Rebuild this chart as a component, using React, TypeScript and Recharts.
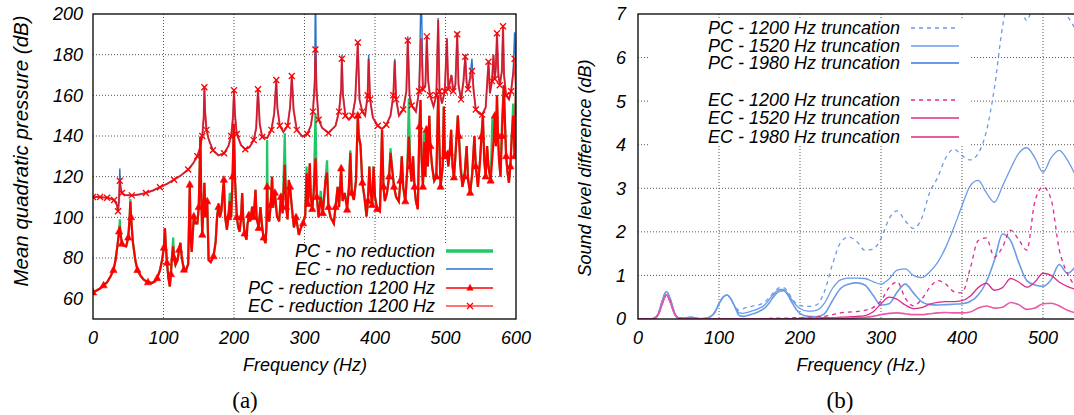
import React from 'react';
import { LineChart, Line, XAxis, YAxis, CartesianGrid } from 'recharts';

// (a) mean quadratic pressure, EC curve
const ecFreq = [
  0, 5, 10, 15, 20, 25, 30, 34, 35.5, 37,
  38, 39, 41, 45, 55, 65, 75, 85, 95, 105,
  115, 125, 135, 142, 148, 152, 155, 157, 158, 159,
  161, 164, 170, 178, 186, 192, 196, 198.5, 200, 201.5,
  204, 210, 216, 222, 228, 231.5, 234, 236.5, 240, 247,
  253, 257, 260, 261.5, 265, 270, 276, 279.5, 282, 284.5,
  289, 297, 304, 309, 312, 314.5, 315.5, 317, 320, 325,
  334, 344, 349, 352, 353, 354.5, 358, 363, 368, 372,
  375.6, 378, 382, 386, 389.5, 391, 393, 397, 404, 410,
  416, 422, 426, 428, 430, 434, 440, 444.5, 446.5, 449,
  452, 458, 462.5, 465.5, 468, 471.5, 473.5, 475.5, 478, 483,
  487, 489.6, 491.5, 495, 499, 502, 504, 508.5, 511, 514,
  516.6, 518.5, 522, 525.5, 528, 530, 532, 535, 537.5, 540,
  543, 548, 552, 557, 561, 563, 566, 568, 570, 571.5,
  573, 575, 577, 580, 581.6, 583, 586, 590, 593, 596,
  598, 600,
];
const ecNoReduction = [
  110, 110, 110, 109.8, 109.6, 109.2, 108.5, 106, 103, 110,
  124, 116, 112, 111, 110.8, 111.2, 112, 113.2, 114.8, 116.5,
  118.5, 120.7, 123.5, 126.5, 130, 134.5, 140, 149, 164, 152,
  143, 138.5, 133, 130.5, 131.5, 135, 140, 149, 163, 150,
  141, 135.5, 133.5, 134.5, 138, 144, 163, 146, 139.5, 139,
  143, 151, 168, 154, 145, 142, 145, 154, 170, 153,
  143, 139.7, 141, 145, 152, 168, 215, 165, 148, 144,
  141.5, 145, 152, 164, 180, 161, 150, 148, 150, 158,
  186, 158, 152, 150, 160, 180, 158, 149, 145, 143.5,
  145.5, 150, 160, 178, 158, 150, 153, 162, 189, 160,
  155, 152, 162, 215, 163, 165, 189, 167, 160, 154.5,
  160, 198, 162, 156, 162, 188, 163, 170, 162, 165,
  191, 165, 158, 167, 180, 166, 163, 170, 178, 162,
  153, 151, 150.5, 154, 177, 161, 167, 180, 168, 174,
  191, 170, 165, 172, 194, 170, 160, 158, 162, 172,
  191, 172,
];
const ecReduction = [
  110, 110, 110, 109.8, 109.6, 109.2, 108.5, 106, 103, 108,
  118, 114, 112, 111, 110.8, 111.2, 112, 113.2, 114.8, 116.5,
  118.5, 120.7, 123.5, 126.5, 130, 134.5, 140, 149, 164, 152,
  143, 138.5, 133, 130.5, 131.5, 135, 140, 149, 162.5, 150,
  141, 135.5, 133.5, 134.5, 138, 144, 163, 146, 139.5, 139,
  143, 151, 167.5, 154, 145, 142, 145, 154, 169.5, 153,
  143, 139.7, 141, 145, 152, 165, 182.5, 162, 148, 144,
  141.5, 145, 152, 163, 178, 160, 150, 148, 150, 158,
  186, 158, 152, 150, 160, 178, 158, 149, 145, 143.5,
  145.5, 150, 160, 177, 158, 150, 153, 162, 187, 160,
  155, 152, 162, 188, 163, 165, 189, 167, 160, 154.5,
  160, 197, 162, 156, 162, 188, 163, 170, 162, 165,
  190, 165, 158, 167, 179, 166, 163, 168, 172, 162,
  153, 151, 150.5, 154, 176.5, 161, 167, 180, 168, 174,
  190.5, 170, 165, 172, 194, 170, 160, 158, 162, 170,
  178, 162,
];

// (a) PC curve
const pcFreq = [
  0, 5, 10, 15, 20, 25, 29, 32, 35, 37,
  38, 39, 41, 44, 47, 50, 52, 53, 54, 56.5,
  60, 63, 68, 72, 78, 84, 88, 91, 95, 98,
  100.5, 102, 103.5, 105, 107, 109, 110.5, 112, 113.7, 115,
  117, 120, 122, 124, 126, 129, 132, 135, 137.3, 138.5,
  140, 143, 145.4, 148, 150, 152.3, 153.5, 155, 158, 159.5,
  162, 164, 167, 171, 174, 176, 178, 180, 182, 185.6,
  187.5, 190, 192, 194, 196, 198, 199.7, 201.5, 204, 206,
  208, 210, 211.6, 213, 215, 217.7, 219, 221, 223, 225.8,
  228, 230.5, 232, 235, 237.5, 240, 242, 244.7, 246, 247,
  248, 250, 252, 254, 255.5, 258, 261, 264, 266.5, 269,
  272, 274, 276, 277.7, 279.5, 282, 285, 288, 292, 295,
  298, 301, 303, 305, 307.5, 309, 311, 313, 315.6, 317.5,
  320, 323, 326, 329.8, 332, 334, 337, 341.6, 344, 347,
  349, 352, 354, 357, 360.5, 363, 365, 367, 370, 373,
  375.6, 377, 379.4, 382, 385, 388, 390, 392, 394, 396,
  398, 400, 403, 407, 410, 412, 414, 417, 420, 422,
  424, 427, 430, 433.8, 436, 438, 440, 443, 446, 448,
  450, 451.8, 454, 456, 458, 460.7, 463, 464.5, 466, 468,
  470, 471.5, 473, 475, 477, 478.5, 481, 484, 487, 489.6,
  491, 493, 496, 497.6, 499, 502, 504, 506, 508, 510,
  512, 514, 517.5, 519, 521, 524, 527, 530, 532, 535,
  538, 541, 543, 546, 549, 551, 553, 555, 557, 559,
  561, 564, 566.5, 568.5, 570, 571.5, 573, 574.5, 576, 578,
  580, 582.7, 584, 586, 588, 590, 592, 594, 596, 598,
  600,
];
const pcNoReduction = [
  63, 64, 65, 66.5, 68, 71, 74, 79, 87, 93,
  99, 92, 87, 86, 85.7, 90, 100, 109, 100, 88,
  79, 74, 71, 69.3, 68, 67.8, 68.5, 70, 74, 79,
  85, 94.7, 85, 77.6, 70, 66, 72, 80.7, 90, 80,
  76.6, 79, 84, 87.5, 80, 74.2, 74, 77, 116, 90,
  83, 100.4, 97, 97, 105, 139.7, 110, 91.4, 117, 100,
  107.8, 79, 78, 80.8, 88, 100.4, 107, 100, 102.9, 118.4,
  100, 93.9, 100, 112, 100, 120, 146, 118, 100, 95,
  93, 100, 112, 100, 92, 89, 96, 101, 98, 105.3,
  100, 113.5, 100, 94.7, 105, 95, 90, 87.3, 95, 138,
  100, 98, 106, 120, 105, 112, 100.4, 98, 110, 102,
  141.4, 105, 99, 118.4, 115, 105, 95, 100, 91.4, 95,
  97, 101, 125, 106.5, 126.6, 110, 104, 112, 151, 110,
  100, 113, 102, 118.4, 128, 105, 100, 97, 105, 115,
  105, 124, 108, 112, 106, 115, 133, 112, 108.6, 118,
  150, 140, 135.6, 117, 110, 100.4, 108, 125, 112, 106,
  125, 110, 104, 102.9, 143, 115, 108, 112, 120, 134,
  125, 115, 110, 107.8, 118, 130, 115, 107.8, 125, 158.6,
  125, 117.6, 130, 115, 108, 104, 144.6, 157.7, 130, 115,
  142, 120, 145, 125, 150, 135, 125, 118, 120, 160,
  140, 115, 125, 154.5, 130, 131.7, 125, 131.7, 143, 125,
  119.6, 130, 150, 140, 130, 115, 120, 135, 120, 112,
  122, 140, 125, 115, 128, 139.7, 150, 128, 120, 135,
  125, 118, 149, 139, 150, 135, 160, 140, 128, 120,
  146, 165, 150, 130, 122, 117, 125, 140, 156, 130,
  164,
];
const pcReduction = [
  63, 64, 65, 66.5, 68, 71, 74, 79, 87, 93,
  95.5, 92, 87, 86, 85.7, 90, 100, 107.8, 100, 88,
  79, 74, 71, 69.3, 68, 67.8, 68.5, 70, 74, 79,
  85, 94.7, 85, 77.6, 70, 66, 72, 80.7, 85.7, 80,
  76.6, 79, 84, 87.5, 80, 74.2, 74, 77, 116, 90,
  83, 100.4, 97, 97, 105, 139.7, 110, 91.4, 117, 100,
  107.8, 79, 78, 80.8, 88, 100.4, 105, 100, 102.9, 118.4,
  100, 93.9, 100, 108, 100, 120, 146, 118, 100, 95,
  93, 100, 112, 100, 92, 89, 96, 101, 98, 105.3,
  100, 113.5, 100, 94.7, 105, 95, 90, 87.3, 95, 115,
  100, 98, 106, 120, 105, 112, 100.4, 98, 110, 102,
  125.8, 105, 99, 118.4, 115, 105, 95, 100, 91.4, 95,
  97, 101, 121.7, 106.5, 126.6, 110, 104, 112, 129, 110,
  100, 110, 102, 118.4, 122, 105, 100, 97, 105, 115,
  105, 124, 108, 112, 103.7, 115, 131.7, 112, 108.6, 118,
  150, 140, 135.6, 117, 110, 100.4, 108, 125, 112, 106,
  125, 110, 104, 102.9, 143, 115, 108, 112, 120, 131.7,
  125, 115, 110, 107.8, 118, 130, 115, 107.8, 125, 139.7,
  125, 117.6, 130, 115, 108, 104, 144.6, 157.7, 130, 115,
  137, 120, 143, 125, 150, 135, 125, 118, 120, 160,
  140, 115, 125, 154.5, 130, 131.7, 125, 131.7, 143, 125,
  119.6, 130, 150, 140, 125, 115, 120, 135, 118, 112,
  122, 140, 125, 115, 128, 139.7, 150, 128, 120, 135,
  125, 118, 130, 139, 150, 135, 160, 140, 128, 120,
  140, 165, 150, 130, 122, 117, 125, 140, 150, 130,
  164,
];

const pressureTicksX = [0, 100, 200, 300, 400, 500, 600];
const pressureTicksY = [60, 80, 100, 120, 140, 160, 180, 200];

// (b) sound level difference
const diffFreq = [
  0, 5, 10, 15, 20, 25, 30, 35, 40, 45,
  50, 55, 60, 65, 70, 75, 80, 85, 90, 95,
  100, 105, 110, 115, 120, 125, 130, 135, 140, 145,
  150, 155, 160, 165, 170, 175, 180, 185, 190, 195,
  200, 210, 220, 230, 240, 250, 260, 270, 280, 290,
  300, 310, 320, 330, 340, 350, 360, 370, 380, 390,
  400, 410, 420, 430, 440, 450, 460, 470, 480, 490,
  500, 510, 520, 530, 540,
];
const pc1200 = [
  0, 0, 0, 0, 0.02, 0.12, 0.42, 0.63, 0.45, 0.15,
  0.03, 0.02, 0.03, 0.04, 0.03, 0.01, 0.01, 0.02, 0.06, 0.16,
  0.35, 0.5, 0.55, 0.45, 0.28, 0.2, 0.24, 0.27, 0.29, 0.31,
  0.33, 0.37, 0.45, 0.56, 0.66, 0.72, 0.72, 0.62, 0.47, 0.36,
  0.31, 0.29, 0.32, 0.62, 1.25, 1.75, 1.88, 1.78, 1.58, 1.6,
  1.85, 2.3, 2.48, 2.25, 2.08, 2.3, 2.9, 3.25, 3.7, 3.9,
  3.75, 3.65, 3.8, 4.3, 5.3, 6.7, 7.5, 7.3, 6.85, 7.4,
  7.8, 7.6, 7.15, 6.95, 6.65,
];
const pc1520 = [
  0, 0, 0, 0, 0.02, 0.12, 0.42, 0.63, 0.45, 0.15,
  0.03, 0.02, 0.03, 0.04, 0.03, 0.01, 0.01, 0.02, 0.06, 0.16,
  0.35, 0.5, 0.55, 0.45, 0.27, 0.14, 0.13, 0.15, 0.18, 0.21,
  0.25, 0.3, 0.4, 0.52, 0.62, 0.68, 0.68, 0.58, 0.44, 0.32,
  0.24, 0.18, 0.2, 0.36, 0.7, 0.9, 0.94, 0.94, 0.93, 0.86,
  0.8, 0.92, 1.12, 1.15, 1.0, 0.95, 1.08, 1.3, 1.65, 2.1,
  2.6, 3.05, 3.18, 2.9, 2.68, 3.05, 3.45, 3.8, 3.93, 3.7,
  3.37, 3.7, 3.87, 3.65, 3.3,
];
const pc1980 = [
  0, 0, 0, 0, 0.02, 0.12, 0.42, 0.63, 0.45, 0.15,
  0.03, 0.02, 0.03, 0.04, 0.03, 0.01, 0.01, 0.02, 0.06, 0.16,
  0.35, 0.5, 0.55, 0.45, 0.26, 0.08, 0.06, 0.08, 0.11, 0.14,
  0.18, 0.23, 0.32, 0.45, 0.57, 0.64, 0.65, 0.55, 0.38, 0.23,
  0.13, 0.06, 0.05, 0.12, 0.42, 0.7, 0.8, 0.83, 0.78, 0.55,
  0.32, 0.35, 0.62, 0.8, 0.6, 0.4, 0.33, 0.32, 0.33, 0.34,
  0.35, 0.4, 0.55, 0.85, 1.35, 1.95, 1.8, 1.3, 0.88, 0.78,
  0.75, 0.9, 1.25, 1.05, 1.2,
];
const ec1200 = [
  0, 0, 0, 0, 0.01, 0.1, 0.35, 0.55, 0.38, 0.12,
  0.02, 0.01, 0.01, 0.01, 0.01, 0, 0, 0, 0, 0,
  0, 0, 0, 0, 0, 0, 0, 0, 0.01, 0.01,
  0.01, 0.01, 0.01, 0.02, 0.02, 0.02, 0.02, 0.02, 0.03, 0.03,
  0.03, 0.04, 0.05, 0.06, 0.1, 0.14, 0.16, 0.17, 0.2, 0.26,
  0.42, 0.72, 0.85, 0.48, 0.3, 0.45, 0.72, 0.88, 0.8, 0.63,
  0.6, 1.15, 1.8, 1.86, 1.42, 1.65, 2.04, 1.82, 1.58, 2.7,
  3.03, 2.75, 1.6, 1.05, 0.75,
];
const ec1520 = [
  0, 0, 0, 0, 0.01, 0.1, 0.35, 0.55, 0.38, 0.12,
  0.02, 0.01, 0.01, 0.01, 0.01, 0, 0, 0, 0, 0,
  0, 0, 0, 0, 0, 0, 0, 0, 0, 0,
  0.01, 0.01, 0.01, 0.01, 0.01, 0.01, 0.01, 0.01, 0.01, 0.01,
  0.02, 0.02, 0.02, 0.03, 0.03, 0.04, 0.05, 0.06, 0.08, 0.16,
  0.35, 0.5, 0.45, 0.32, 0.24, 0.26, 0.34, 0.38, 0.4, 0.4,
  0.42, 0.52, 0.72, 0.82, 0.66, 0.72, 0.93, 0.85, 0.73, 0.85,
  1.05, 1.0, 0.85, 0.75, 0.68,
];
const ec1980 = [
  0, 0, 0, 0, 0.01, 0.1, 0.35, 0.55, 0.38, 0.12,
  0.02, 0.01, 0.01, 0.01, 0.01, 0, 0, 0, 0, 0,
  0, 0, 0, 0, 0, 0, 0, 0, 0, 0,
  0, 0, 0, 0, 0, 0, 0, 0, 0, 0,
  0.01, 0.01, 0.01, 0.01, 0.02, 0.02, 0.02, 0.03, 0.04, 0.06,
  0.1, 0.13, 0.14, 0.12, 0.1, 0.1, 0.12, 0.14, 0.15, 0.14,
  0.14, 0.16, 0.25, 0.3, 0.25, 0.27, 0.38, 0.33, 0.22, 0.25,
  0.35, 0.36, 0.3, 0.2, 0.14,
];

// only the ticks that fit inside the visible part of panel (b)
const diffTicksX = [0, 100, 200, 300, 400, 500];
const diffTicksY = [0, 1, 2, 3, 4, 5, 6, 7];

const FONT = '"Liberation Sans", Arial, Helvetica, sans-serif';
const GREEN = '#1fc866';
const DARK_BLUE = '#2a74cc';
const RED = '#ff0000';
const BLUE = '#6b9be8';
const MAGENTA = '#dd2a8e';
const PINK = '#e65aa8';

const tickStyle = { fontSize: 18, fontStyle: 'italic', fill: '#000', fontFamily: FONT };
const gridProps = { stroke: '#555', strokeDasharray: '1 2', strokeWidth: 1 };

const ecRows = ecFreq.map((f, i) => ({ f, noRed: ecNoReduction[i], red: ecReduction[i] }));
const pcRows = pcFreq.map((f, i) => ({ f, noRed: pcNoReduction[i], red: pcReduction[i] }));
const diffRows = diffFreq.map((f, i) => ({
  f, pc1200: pc1200[i], pc1520: pc1520[i], pc1980: pc1980[i],
  ec1200: ec1200[i], ec1520: ec1520[i], ec1980: ec1980[i],
}));

const trianglePath = (cx: number, cy: number) =>
  `${cx},${cy - 4.2} ${cx - 3.6},${cy + 2.4} ${cx + 3.6},${cy + 2.4}`;
const crossPath = (cx: number, cy: number) =>
  `M${cx - 3},${cy - 3}L${cx + 3},${cy + 3}M${cx - 3},${cy + 3}L${cx + 3},${cy - 3}`;

// gnuplot-style pointinterval markers
const renderTriangle = (props: any) => {
  const { cx, cy, index } = props;
  if (index % 3 !== 0 || cx == null || cy == null) return <g key={`tri-${index}`} />;
  return <polygon key={`tri-${index}`} points={trianglePath(cx, cy)} fill={RED} stroke={RED} strokeWidth={0.6} />;
};
const renderCross = (props: any) => {
  const { cx, cy, index } = props;
  if (index % 2 !== 0 || cx == null || cy == null) return <g key={`x-${index}`} />;
  return <path key={`x-${index}`} d={crossPath(cx, cy)} stroke={RED} strokeWidth={1.3} fill="none" />;
};

const leftLegend = [
  { label: 'PC - no reduction', y: 251 },
  { label: 'EC - no reduction', y: 269 },
  { label: 'PC - reduction 1200 Hz', y: 288 },
  { label: 'EC - reduction 1200 Hz', y: 306 },
];
const rightLegend = [
  { label: 'PC - 1200 Hz truncation', y: 28, color: BLUE, dash: '4 4', width: 1.3 },
  { label: 'PC - 1520 Hz truncation', y: 46, color: BLUE, dash: undefined, width: 1.3 },
  { label: 'PC - 1980 Hz truncation', y: 63, color: BLUE, dash: undefined, width: 1.8 },
  { label: 'EC - 1200 Hz truncation', y: 100, color: MAGENTA, dash: '4 4', width: 1.3 },
  { label: 'EC - 1520 Hz truncation', y: 118, color: MAGENTA, dash: undefined, width: 1.3 },
  { label: 'EC - 1980 Hz truncation', y: 137, color: PINK, dash: undefined, width: 1.8 },
];

const textProps = { fontFamily: FONT, fontSize: 18, fontStyle: 'italic' as const, fill: '#000' };

const Overlay: React.FC = () => (
  <svg width={1074} height={415} style={{ position: 'absolute', left: 0, top: 0, pointerEvents: 'none' }}>
    {/* opaque key boxes */}
    <rect x={245} y={244} width={270} height={74} fill="#fff" />
    <rect x={648} y={20} width={322} height={126} fill="#fff" />
    {/* borders */}
    <rect x={93} y={14} width={423} height={305} fill="none" stroke="#000" strokeWidth={1.3} />
    <rect x={638} y={14} width={486} height={305} fill="none" stroke="#000" strokeWidth={1.3} />

    {leftLegend.map((row) => (
      <text key={row.label} x={435} y={row.y} dy="0.35em" textAnchor="end" {...textProps}>{row.label}</text>
    ))}
    <line x1={446} x2={493} y1={251} y2={251} stroke={GREEN} strokeWidth={3.5} />
    <line x1={446} x2={493} y1={269} y2={269} stroke={DARK_BLUE} strokeWidth={1.3} />
    <line x1={446} x2={493} y1={288} y2={288} stroke={RED} strokeWidth={1.4} />
    <polygon points={trianglePath(470, 288)} fill={RED} />
    <line x1={446} x2={493} y1={306} y2={306} stroke={RED} strokeOpacity={0.55} strokeWidth={2.2} />
    <path d={crossPath(470, 306)} stroke={RED} strokeWidth={1.3} />

    {rightLegend.map((row) => (
      <g key={row.label}>
        <text x={900} y={row.y} dy="0.35em" textAnchor="end" {...textProps}>{row.label}</text>
        <line x1={911} x2={959} y1={row.y} y2={row.y} stroke={row.color} strokeWidth={row.width} strokeDasharray={row.dash} />
      </g>
    ))}

    <text transform="translate(21,151) rotate(-90)" textAnchor="middle" dy="0.35em" {...textProps} fontSize={20.5}>
      Mean quadratic pressure (dB)
    </text>
    <text x={305} y={365} textAnchor="middle" dy="0.35em" {...textProps}>Frequency (Hz)</text>
    <text transform="translate(585,168) rotate(-90)" textAnchor="middle" dy="0.35em" {...textProps}>
      Sound level difference (dB)
    </text>
    <text x={861} y={365} textAnchor="middle" dy="0.35em" {...textProps}>Frequency (Hz.)</text>

    <text x={245} y={400} textAnchor="middle" dy="0.35em" fontFamily='"Liberation Serif", "DejaVu Serif", serif' fontSize={23}>(a)</text>
    <text x={840} y={400} textAnchor="middle" dy="0.35em" fontFamily='"Liberation Serif", "DejaVu Serif", serif' fontSize={23}>(b)</text>
  </svg>
);

const App: React.FC = () => {
  return (
    <div style={{ position: 'fixed', left: 0, top: 0, width: 1074, height: 415, overflow: 'hidden', background: '#fff', fontFamily: FONT }}>
      <div style={{ position: 'absolute', left: 0, top: 0 }}>
        <LineChart width={560} height={415} margin={{ top: 14, right: 44, bottom: 0, left: 0 }}>
          <CartesianGrid {...gridProps} horizontalValues={[80, 100, 120, 140, 160, 180]} verticalValues={[100, 200, 300, 400, 500]} />
          <XAxis type="number" dataKey="f" domain={[0, 600]} ticks={pressureTicksX} interval={0}
            allowDataOverflow height={96} axisLine={false} tickLine={false} tickSize={0} tickMargin={12} tick={tickStyle} />
          <YAxis type="number" domain={[50, 200]} ticks={pressureTicksY} interval={0}
            allowDataOverflow width={93} axisLine={false} tickLine={false} tickSize={0} tickMargin={10} tick={tickStyle} />
          <Line data={pcRows} dataKey="noRed" type="linear" stroke={GREEN} strokeWidth={2.2} dot={false} isAnimationActive={false} />
          <Line data={ecRows} dataKey="noRed" type="linear" stroke={DARK_BLUE} strokeWidth={1.4} dot={false} isAnimationActive={false} />
          <Line data={pcRows} dataKey="red" type="linear" stroke={RED} strokeWidth={2.2} dot={renderTriangle} isAnimationActive={false} />
          <Line data={ecRows} dataKey="red" type="linear" stroke={RED} strokeOpacity={0.75} strokeWidth={2} dot={renderCross} isAnimationActive={false} />
        </LineChart>
      </div>
      <div style={{ position: 'absolute', left: 560, top: 0 }}>
        <LineChart width={604} height={415} data={diffRows} margin={{ top: 14, right: 40, bottom: 0, left: 0 }}>
          <CartesianGrid {...gridProps} horizontalValues={[1, 2, 3, 4, 5, 6]} verticalValues={[100, 200, 300, 400, 500]} />
          <XAxis type="number" dataKey="f" domain={[0, 600]} ticks={diffTicksX} interval={0}
            allowDataOverflow height={96} axisLine={false} tickLine={false} tickSize={0} tickMargin={12} tick={tickStyle} />
          <YAxis type="number" domain={[0, 7]} ticks={diffTicksY} interval={0}
            allowDataOverflow width={78} axisLine={false} tickLine={false} tickSize={0} tickMargin={12} tick={tickStyle} />
          <Line dataKey="pc1200" type="monotone" stroke={BLUE} strokeWidth={1.3} strokeDasharray="4 4" dot={false} isAnimationActive={false} />
          <Line dataKey="pc1520" type="monotone" stroke={BLUE} strokeWidth={1.3} dot={false} isAnimationActive={false} />
          <Line dataKey="pc1980" type="monotone" stroke={BLUE} strokeWidth={1.6} dot={false} isAnimationActive={false} />
          <Line dataKey="ec1200" type="monotone" stroke={MAGENTA} strokeWidth={1.3} strokeDasharray="4 4" dot={false} isAnimationActive={false} />
          <Line dataKey="ec1520" type="monotone" stroke={MAGENTA} strokeWidth={1.3} dot={false} isAnimationActive={false} />
          <Line dataKey="ec1980" type="monotone" stroke={PINK} strokeWidth={1.6} dot={false} isAnimationActive={false} />
        </LineChart>
      </div>
      <Overlay />
    </div>
  );
};

export default App;
